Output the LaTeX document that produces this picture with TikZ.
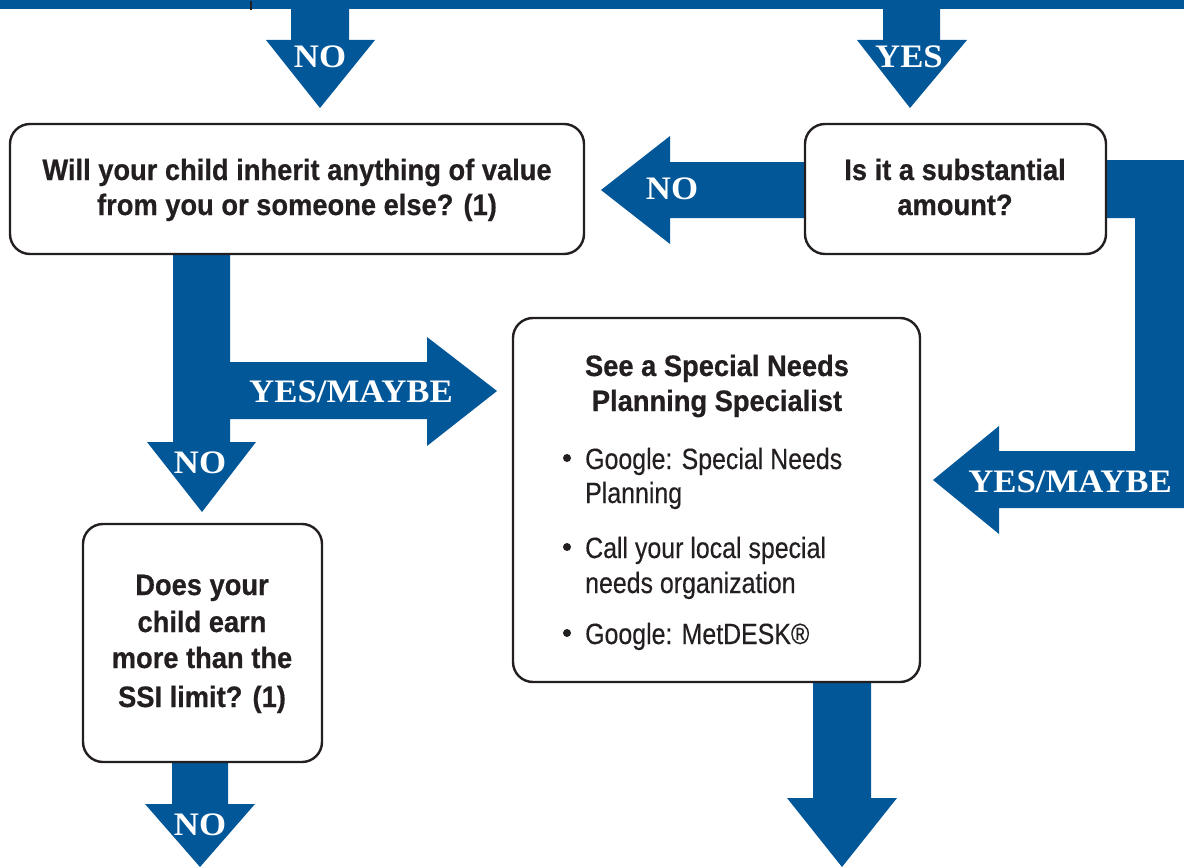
\documentclass[tikz,border=0pt]{standalone}
\usepackage{fontspec}
\setmainfont{Liberation Sans}
\newfontfamily\boxbf[FakeStretch=0.925,FakeBold=0.6]{Liberation Sans}
\newfontfamily\bodyf[FakeStretch=0.85,FakeBold=0.3]{Liberation Sans}
\newfontfamily\lblf[FakeStretch=1.06]{Liberation Serif}
\definecolor{flowblue}{RGB}{2,87,153}
\definecolor{boxline}{RGB}{35,31,32}
\tikzset{
  blockarrow/.style={fill=flowblue, draw=none},
  qbox/.style={draw=boxline, line width=2.4pt, fill=white, rounded corners=20pt, rectangle, inner sep=0pt},
  qtext/.style={anchor=base, inner sep=0pt, text=boxline, font=\boxbf\bfseries\fontsize{29.5}{35}\selectfont},
  btext/.style={anchor=base west, inner sep=0pt, text=boxline, font=\bodyf\fontsize{29.3}{35}\selectfont},
  lbl/.style={anchor=base, inner sep=0pt, text=white, font=\lblf\bfseries\fontsize{32.8}{36}\selectfont}
}
\begin{document}
\begin{tikzpicture}[x=1pt,y=-1pt]
\useasboundingbox (0,0) rectangle (1184,867);
% top band
\fill[flowblue] (0,0) rectangle (1184,9);
\draw[boxline, line width=1.4pt] (251,1) -- (251,10);
% arrows
\fill[blockarrow] (291,0) -- (291,40) -- (266,40) -- (320,108) -- (375,40) -- (349,40) -- (349,0) -- cycle;
\fill[blockarrow] (883,0) -- (883,40) -- (857,40) -- (910,108) -- (967,40) -- (940,40) -- (940,0) -- cycle;
\fill[blockarrow] (810,162) -- (670,162) -- (670,136) -- (601,190) -- (670,244) -- (670,218) -- (810,218) -- cycle;
\fill[blockarrow] (1100,160) -- (1184,160) -- (1184,508) -- (999,508) -- (999,534) -- (933,480) -- (999,426) -- (999,451) -- (1135,451) -- (1135,218) -- (1100,218) -- cycle;
\fill[blockarrow] (173,250) -- (230,250) -- (230,362) -- (427,362) -- (427,337) -- (497,391) -- (427,446) -- (427,419) -- (230,419) -- (230,442) -- (256,442) -- (202,512) -- (147,442) -- (173,442) -- cycle;
\fill[blockarrow] (813,678) -- (871,678) -- (871,798) -- (897,798) -- (842,867) -- (787,798) -- (813,798) -- cycle;
\fill[blockarrow] (172,758) -- (228,758) -- (228,804) -- (255,804) -- (200,867) -- (145,804) -- (172,804) -- cycle;
% boxes
\node[qbox, minimum width=574pt, minimum height=130pt] (inherit) at (297,189) {};
\node[qbox, minimum width=301pt, minimum height=130pt] (subst) at (955.5,189) {};
\node[qbox, minimum width=407pt, minimum height=364pt] (spec) at (716.5,500) {};
\node[qbox, minimum width=239pt, minimum height=238pt] (earn) at (202.5,643) {};
% box texts
\node[qtext] (i1) at (297,180) {Will your child inherit anything of value};
\node[qtext] (i2) at (297,215) {from you or someone else? (1)};
\node[qtext] (s1) at (955,180) {Is it a substantial};
\node[qtext] (s2) at (955,215) {amount?};
\node[qtext] (e1) at (202,595) {Does your};
\node[qtext] (e2) at (202,632) {child earn};
\node[qtext] (e3) at (202,668) {more than the};
\node[qtext] (e4) at (202,707) {SSI limit? (1)};
\node[qtext] (p1) at (717,376) {See a Special Needs};
\node[qtext] (p2) at (717,411) {Planning Specialist};
\fill[boxline] (567,458) circle (4pt);
\fill[boxline] (567,547) circle (4pt);
\fill[boxline] (567,633) circle (4pt);
\node[btext] (b1) at (585,469) {Google: Special Needs};
\node[btext] (b2) at (585,503) {Planning};
\node[btext] (b3) at (585,558) {Call your local special};
\node[btext] (b4) at (585,593) {needs organization};
\node[btext] (b5) at (585,644) {Google: MetDESK®};
% arrow labels
\node[lbl] (l1) at (320,68) {NO};
\node[lbl] (l2) at (909,68) {YES};
\node[lbl] (l3) at (672,199) {NO};
\node[lbl] (l4) at (351,402) {YES/MAYBE};
\node[lbl] (l5) at (200,473) {NO};
\node[lbl] (l6) at (1070,492) {YES/MAYBE};
\node[lbl] (l7) at (200,835) {NO};
\end{tikzpicture}
\end{document}
